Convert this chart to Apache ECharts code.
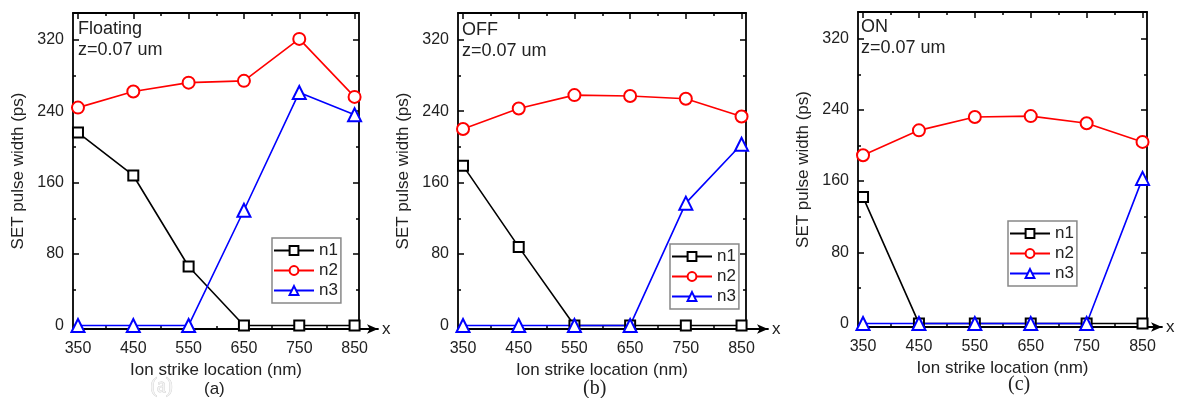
<!DOCTYPE html>
<html>
<head>
<meta charset="utf-8">
<script src="https://cdn.jsdelivr.net/npm/echarts@6/dist/echarts.min.js"></script>
<style>
  html, body { margin: 0; padding: 0; background: #fff; }
  #chart { width: 1178px; height: 398px; }
</style>
</head>
<body>
<div id="chart"></div>
<script>
// data
var xs = [350, 450, 550, 650, 750, 850];
var floatN1 = [216, 168, 66, 0, 0, 0];
var floatN2 = [244, 262, 272, 274, 321, 256];
var floatN3 = [0, 0, 0, 129, 261, 236];
var offN1 = [179, 88, 0, 0, 0, 0];
var offN2 = [220, 243, 258, 257, 254, 234];
var offN3 = [0, 0, 0, 0, 137, 203];
var onN1 = [142, 0, 0, 0, 0, 0];
var onN2 = [189, 217, 232, 233, 225, 204];
var onN3 = [0, 0, 0, 0, 0, 163];
var seriesNames = ['n1', 'n2', 'n3'];
var panelNames = ['Floating', 'OFF', 'ON'];
var depthText = 'z=0.07 um';
var subLabels = ['(a)', '(b)', '(c)'];
var xTicks = [350, 450, 550, 650, 750, 850];
var xMinorTicks = [400, 500, 600, 700, 800];
var yTicks = [0, 80, 160, 240, 320];
var yMinorTicks = [40, 120, 200, 280];
var xName = 'Ion strike location (nm)';
var yName = 'SET pulse width (ps)';

var panelData = [
  [floatN1, floatN2, floatN3],
  [offN1, offN2, offN3],
  [onN1, onN2, onN3]
];

var font = "'Liberation Sans', Arial, sans-serif";
var serif = "'Liberation Serif', 'Times New Roman', serif";
var colors = ['#000000', '#ff0000', '#0000ff'];
var symbols = ['emptyRect', 'emptyCircle', 'emptyTriangle'];
var symbolSizes = [10, 12, 13];

// panel layout (pixels)
var panels = [
  { left: 73, top: 13, width: 286, height: 316, arrow: 19, legend: [272, 238], title: [78, 19], sub: [216, 392] },
  { left: 458, top: 13, width: 288, height: 316, arrow: 22, legend: [670, 244], title: [462, 20], sub: [595, 390] },
  { left: 858, top: 12, width: 289, height: 315, arrow: 15, legend: [1008, 221], title: [861, 17], sub: [1020, 386] }
];

var xMin = 341, xMax = 858, yMin = -4, yMax = 350;

var chart = echarts.init(document.getElementById('chart'));

var grid = [], xAxis = [], yAxis = [], series = [], legend = [], title = [], graphic = [];

function xAx(gi, pos, ticks, len, showLine, labels) {
  return {
    type: 'value', gridIndex: gi, position: pos, min: xMin, max: xMax,
    splitLine: { show: false },
    axisLine: { show: showLine, onZero: false, lineStyle: { color: '#000', width: 1.8 } },
    axisTick: { show: true, inside: true, length: len, customValues: ticks, lineStyle: { color: '#000', width: 1.5 } },
    axisLabel: labels ? { customValues: ticks, margin: 12, fontSize: 16, color: '#222', fontFamily: font } : { show: false }
  };
}
function yAx(gi, pos, ticks, len, showLine, labels) {
  return {
    type: 'value', gridIndex: gi, position: pos, min: yMin, max: yMax,
    splitLine: { show: false },
    axisLine: { show: showLine, onZero: false, lineStyle: { color: '#000', width: 1.8 } },
    axisTick: { show: true, inside: true, length: len, customValues: ticks, lineStyle: { color: '#000', width: 1.5 } },
    axisLabel: labels ? { customValues: ticks, margin: 9, fontSize: 16, color: '#222', fontFamily: font } : { show: false }
  };
}

panels.forEach(function (p, i) {
  var g = i * 2;
  grid.push({ left: p.left, top: p.top, width: p.width, height: p.height });
  grid.push({ left: p.left, top: p.top, width: p.width + p.arrow, height: p.height });

  var bx = xAx(g, 'bottom', xTicks, 6, true, true);
  bx.name = xName;
  bx.nameLocation = 'middle';
  bx.nameGap = 30;
  bx.nameTextStyle = { fontSize: 17, color: '#222', fontFamily: font };
  xAxis.push(bx);
  xAxis.push(xAx(g, 'bottom', xMinorTicks, 3, false, false));
  xAxis.push(xAx(g, 'top', xTicks, 6, true, false));
  xAxis.push(xAx(g, 'top', xMinorTicks, 3, false, false));
  xAxis.push({
    type: 'value', gridIndex: g + 1, position: 'bottom', min: 0, max: 1,
    name: 'x', nameLocation: 'end', nameGap: 4,
    nameTextStyle: { fontSize: 17, color: '#222', fontFamily: font, verticalAlign: 'middle' },
    splitLine: { show: false }, axisTick: { show: false }, axisLabel: { show: false },
    axisLine: { show: true, onZero: false, symbol: ['none', 'arrow'], symbolSize: [7, 11], lineStyle: { color: '#000', width: 1.8 } }
  });

  var ly = yAx(g, 'left', yTicks, 6, true, true);
  ly.name = yName;
  ly.nameLocation = 'middle';
  ly.nameGap = 46;
  ly.nameTextStyle = { fontSize: 17, color: '#222', fontFamily: font };
  yAxis.push(ly);
  yAxis.push(yAx(g, 'left', yMinorTicks, 3, false, false));
  yAxis.push(yAx(g, 'right', yTicks, 6, true, false));
  yAxis.push(yAx(g, 'right', yMinorTicks, 3, false, false));
  yAxis.push({ type: 'value', gridIndex: g + 1, show: false, min: yMin, max: yMax });

  panelData[i].forEach(function (vals, k) {
    series.push({
      name: seriesNames[k],
      type: 'line',
      xAxisIndex: i * 5,
      yAxisIndex: i * 5,
      data: xs.map(function (x, j) { return [x, vals[j]]; }),
      symbol: symbols[k],
      symbolSize: symbolSizes[k],
      clip: false,
      color: colors[k],
      lineStyle: { color: colors[k], width: 1.6 },
      itemStyle: { color: colors[k], borderWidth: 1.6 },
      emphasis: { disabled: true }
    });
  });

  legend.push({
    data: seriesNames,
    orient: 'vertical',
    left: p.legend[0], top: p.legend[1],
    itemWidth: 40, itemHeight: 11, itemGap: 3, itemTextGap: 5,
    padding: [4, 3, 4, 1],
    borderColor: '#888', borderWidth: 1.5, backgroundColor: '#fff',
    selectedMode: false,
    textStyle: { fontSize: 17, lineHeight: 17, color: '#222', fontFamily: font }
  });

  title.push({
    text: panelNames[i] + '\n' + depthText,
    left: p.title[0], top: p.title[1], padding: 0,
    textStyle: { fontSize: 18, fontWeight: 'normal', color: '#222', fontFamily: font, lineHeight: 21 }
  });

  graphic.push({
    type: 'text', left: p.sub[0] - 12, top: p.sub[1] - 11,
    style: { text: subLabels[i], fontSize: i === 0 ? 17 : 20, fill: '#222',
      fontFamily: i === 0 ? font : serif }
  });
});

// faint ghost label under panel (a)
graphic.push({
  type: 'text', left: 150, top: 376,
  style: { text: '(a)', fontSize: 20, fill: '#f4f4f4', stroke: '#d0d0d0', lineWidth: 0.8, fontFamily: serif }
});

var option = {
  animation: false,
  backgroundColor: '#fff',
  title: title,
  legend: legend,
  grid: grid,
  xAxis: xAxis,
  yAxis: yAxis,
  series: series,
  graphic: graphic
};
chart.setOption(option);
</script>
</body>
</html>
